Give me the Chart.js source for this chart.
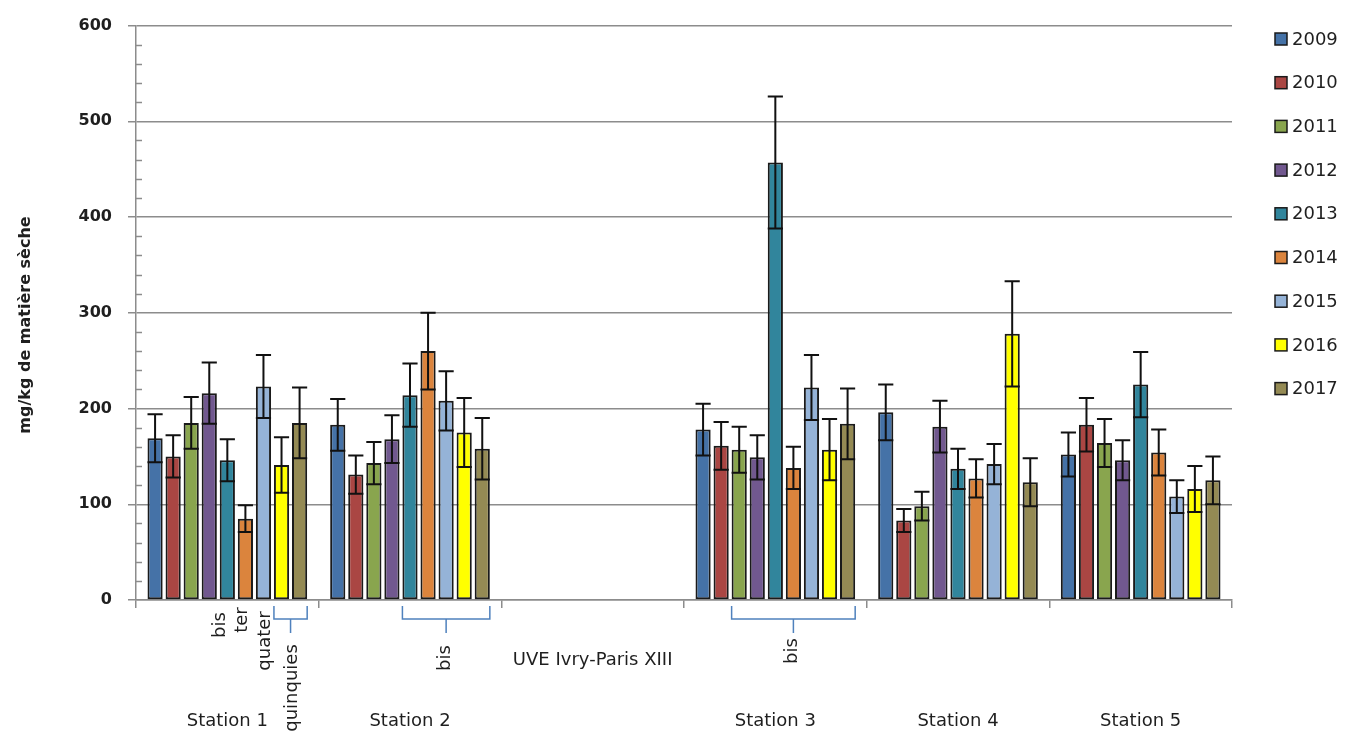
<!DOCTYPE html>
<html><head><meta charset="utf-8">
<script src="https://cdn.jsdelivr.net/npm/chart.js@4.4.1/dist/chart.umd.min.js"></script>
<style>html,body{margin:0;padding:0;background:#fff;}canvas{display:block;}</style>
</head><body>
<canvas id="c" width="1347" height="731"></canvas>
<script>
// ---- data ----
const categories = ['Station 1', 'Station 2', 'UVE Ivry-Paris XIII', 'Station 3', 'Station 4', 'Station 5'];
const years = ['2009', '2010', '2011', '2012', '2013', '2014', '2015', '2016', '2017'];
const yTicks = [0, 100, 200, 300, 400, 500, 600];
const yTitle = 'mg/kg de matière sèche';

const v2009 = [169, 183, null, 178, 196, 152];
const v2010 = [150, 131, null, 161, 83, 183];
const v2011 = [185, 143, null, 157, 98, 164];
const v2012 = [216, 168, null, 149, 181, 146];
const v2013 = [146, 214, null, 457, 137, 225];
const v2014 = [85, 260, null, 138, 127, 154];
const v2015 = [223, 208, null, 222, 142, 108];
const v2016 = [141, 175, null, 157, 278, 116];
const v2017 = [185, 158, null, 184, 123, 125];

const e2009 = [25, 27, null, 27, 29, 23];
const e2010 = [22, 20, null, 25, 12, 28];
const e2011 = [27, 22, null, 24, 15, 25];
const e2012 = [32, 25, null, 23, 27, 21];
const e2013 = [22, 33, null, 69, 21, 34];
const e2014 = [14, 40, null, 22, 20, 24];
const e2015 = [33, 31, null, 34, 21, 17];
const e2016 = [29, 36, null, 32, 55, 24];
const e2017 = [37, 32, null, 37, 25, 25];

const subLabels = ['bis', 'ter', 'quater', 'quinquies', 'bis', 'bis'];

// ---- styling / layout (kept apart from data) ----
const values = [v2009, v2010, v2011, v2012, v2013, v2014, v2015, v2016, v2017];
const errors = [e2009, e2010, e2011, e2012, e2013, e2014, e2015, e2016, e2017];
const colors = ['#4572A7', '#AA4643', '#89A54E', '#71588F', '#31859C', '#DB843D', '#95B3D7', '#FFFF00', '#948A54'];
const FONT = "'DejaVu Sans', sans-serif";
const TXT = '#1f1f1f';
const subLabelPos = [[220, 625], [242, 620], [265, 641], [292, 688], [445, 658], [792, 651]];
// brackets: [category index, first series, last series]
const brackets = [[0, 7, 8], [1, 4, 8], [3, 2, 8]];

const datasets = years.map((y, i) => ({
  label: y,
  data: values[i],
  backgroundColor: colors[i],
  borderColor: '#1a1a1a',
  borderWidth: 2,
  borderSkipped: false,
  categoryPercentage: 0.89,
  barPercentage: 0.84
}));

const extras = {
  id: 'extras',
  afterDatasetsDraw(chart) {
    const ctx = chart.ctx, ys = chart.scales.y;
    ctx.save();
    ctx.strokeStyle = '#111';
    ctx.lineWidth = 2;
    chart.data.datasets.forEach((ds, i) => {
      const meta = chart.getDatasetMeta(i);
      meta.data.forEach((el, j) => {
        const v = ds.data[j], e = errors[i][j];
        if (v == null || e == null) return;
        const hw = el.width / 2;
        const yt = ys.getPixelForValue(v + e), yb = ys.getPixelForValue(v - e);
        ctx.beginPath();
        ctx.moveTo(el.x, yt); ctx.lineTo(el.x, yb);
        ctx.moveTo(el.x - hw, yt); ctx.lineTo(el.x + hw, yt);
        ctx.moveTo(el.x - hw, yb); ctx.lineTo(el.x + hw, yb);
        ctx.stroke();
      });
    });
    ctx.restore();
  },
  afterDraw(chart) {
    const ctx = chart.ctx, ys = chart.scales.y, xs = chart.scales.x;
    const area = chart.chartArea;
    ctx.save();
    // minor ticks on y axis
    ctx.strokeStyle = '#8c8c8c';
    ctx.lineWidth = 1.5;
    for (let v = 20; v < 600; v += 20) {
      if (v % 100 === 0) continue;
      const py = Math.round(ys.getPixelForValue(v)) + 0.5;
      ctx.beginPath(); ctx.moveTo(area.left, py); ctx.lineTo(area.left + 6, py); ctx.stroke();
    }
    // y title
    ctx.fillStyle = TXT;
    ctx.font = 'bold 16px ' + FONT;
    ctx.textAlign = 'center'; ctx.textBaseline = 'middle';
    ctx.save(); ctx.translate(26, 325); ctx.rotate(-Math.PI / 2); ctx.fillText(yTitle, 0, 0); ctx.restore();
    // category labels
    ctx.font = '18px ' + FONT;
    categories.forEach((c, i) => {
      const x = xs.getPixelForValue(i);
      ctx.fillText(c, x, i === 2 ? 660 : 721);
    });
    // rotated sub labels
    subLabels.forEach((t, i) => {
      const [x, y] = subLabelPos[i];
      ctx.save(); ctx.translate(x, y); ctx.rotate(-Math.PI / 2); ctx.fillText(t, 0, 0); ctx.restore();
    });
    // brackets
    ctx.strokeStyle = '#4F81BD';
    ctx.lineWidth = 1.5;
    brackets.forEach(([c, a, b]) => {
      const ea = chart.getDatasetMeta(a).data[c], eb = chart.getDatasetMeta(b).data[c];
      const x0 = ea.x - ea.width / 2, x1 = eb.x + eb.width / 2;
      const top = area.bottom + 6, mid = area.bottom + 19, bot = area.bottom + 33;
      const cx = (x0 + x1) / 2;
      ctx.beginPath();
      ctx.moveTo(x0, top); ctx.lineTo(x0, mid); ctx.lineTo(x1, mid); ctx.lineTo(x1, top);
      ctx.moveTo(cx, mid); ctx.lineTo(cx, bot);
      ctx.stroke();
    });
    // legend
    ctx.font = '18px ' + FONT;
    ctx.textAlign = 'left';
    years.forEach((y, i) => {
      const cy = 39 + i * 43.7;
      ctx.fillStyle = colors[i];
      ctx.fillRect(1275, cy - 6, 12, 12);
      ctx.strokeStyle = '#1a1a1a'; ctx.lineWidth = 1.5;
      ctx.strokeRect(1275, cy - 6, 12, 12);
      ctx.fillStyle = TXT;
      ctx.fillText(y, 1292, cy + 1);
    });
    ctx.restore();
  }
};

new Chart(document.getElementById('c'), {
  type: 'bar',
  data: { labels: categories, datasets },
  options: {
    responsive: false,
    animation: false,
    layout: { padding: { left: 0, top: 19, right: 115, bottom: 0 } },
    plugins: { legend: { display: false }, tooltip: { enabled: false } },
    scales: {
      x: {
        offset: true,
        grid: { offset: true, drawOnChartArea: false, color: '#8c8c8c', lineWidth: 1.5, tickLength: 8 },
        border: { color: '#8c8c8c', width: 1.5 },
        ticks: { display: false },
        afterFit: s => { s.height = 131; }
      },
      y: {
        min: 0, max: 600,
        afterBuildTicks: s => { s.ticks = yTicks.map(v => ({ value: v })); },
        grid: { color: '#8c8c8c', lineWidth: 1.5, tickLength: 8 },
        border: { color: '#8c8c8c', width: 1.5 },
        ticks: { padding: 16, color: TXT, font: { family: FONT, size: 16, weight: 'bold' } },
        afterFit: s => { s.width = 136; }
      }
    }
  },
  plugins: [extras]
});
</script>
</body></html>
